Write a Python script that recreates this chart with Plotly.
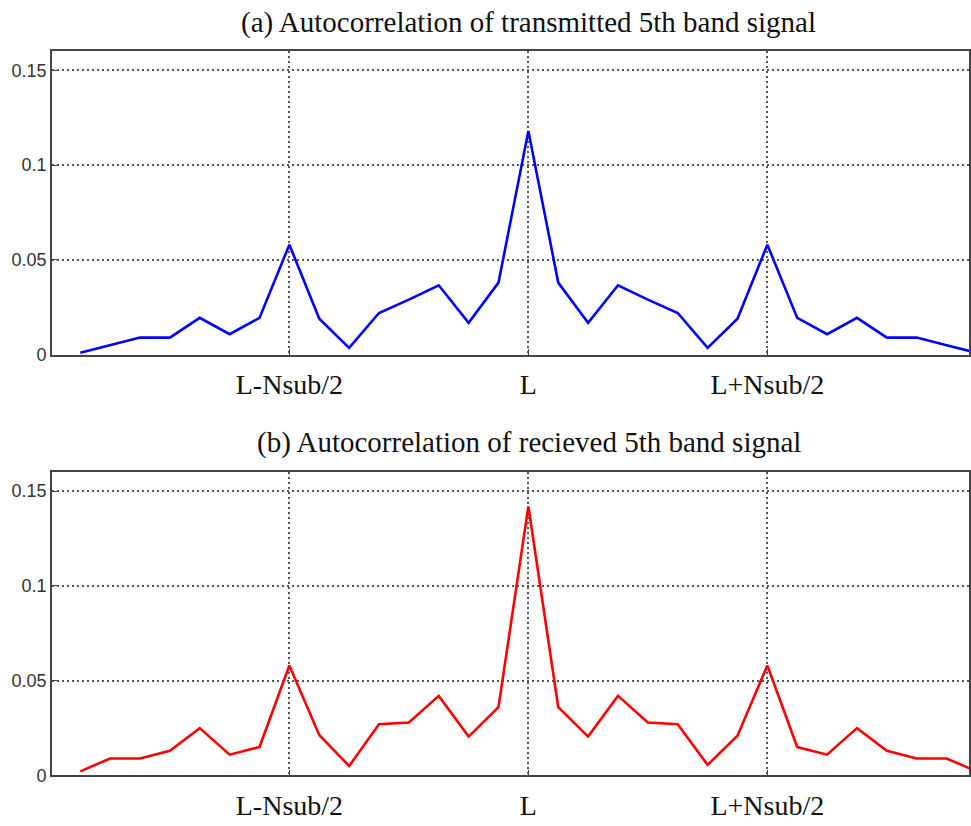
import plotly.graph_objects as go

# ---- data ----
lag_index = list(range(31))
transmitted = [0.001, 0.005, 0.009, 0.009, 0.0194, 0.0108, 0.0194, 0.058, 0.019, 0.0036,
               0.022, 0.029, 0.0366, 0.0168, 0.038, 0.118, 0.038, 0.0168, 0.0366, 0.029,
               0.022, 0.0036, 0.019, 0.058, 0.0194, 0.0108, 0.0194, 0.009, 0.009, 0.005, 0.001]
received = [0.0022, 0.009, 0.009, 0.013, 0.025, 0.011, 0.015, 0.058, 0.0214, 0.005,
            0.027, 0.028, 0.042, 0.0205, 0.036, 0.142, 0.036, 0.0205, 0.042, 0.028,
            0.027, 0.0056, 0.021, 0.058, 0.015, 0.011, 0.025, 0.013, 0.009, 0.009, 0.0022]
x_tick_vals = [7, 15, 23]
x_tick_text = ["L-Nsub/2", "L", "L+Nsub/2"]
y_tick_vals = [0, 0.05, 0.1, 0.15]
y_tick_text = ["0", "0.05", "0.1", "0.15"]
titles = ["(a) Autocorrelation of transmitted 5th band signal",
          "(b) Autocorrelation of recieved 5th band signal"]

W, H = 971, 826
fig = go.Figure()
fig.add_trace(go.Scatter(x=lag_index, y=transmitted, mode="lines",
                         line=dict(color="#0000FF", width=2.6), xaxis="x", yaxis="y",
                         showlegend=False))
fig.add_trace(go.Scatter(x=lag_index, y=received, mode="lines",
                         line=dict(color="#FF0000", width=2.6), xaxis="x2", yaxis="y2",
                         showlegend=False))

serif = "Liberation Serif, Times New Roman, serif"
sans = "Liberation Sans Narrow, Arial Narrow, Liberation Sans, Arial, sans-serif"

xdom = [52 / W, 1.0]
dom_top = [(H - 359) / H, (H - 52) / H]
dom_bot = [(H - 785) / H, (H - 478) / H]

grid = dict(showgrid=True, gridcolor="#555", griddash="2px,3px", gridwidth=1.5)

def xax(anchor):
    return dict(domain=xdom, anchor=anchor, range=[-0.95, 29.75],
                tickmode="array", tickvals=x_tick_vals, ticktext=x_tick_text,
                tickfont=dict(family=serif, size=28, color="#111"),
                ticklabelstandoff=4,
                showline=True, linecolor="#444", linewidth=1.6, mirror=True,
                ticks="inside", ticklen=6, tickcolor="#444", zeroline=False, **grid)

def yax(anchor, dom):
    return dict(domain=dom, anchor=anchor, range=[0, 0.16],
                tickmode="array", tickvals=y_tick_vals, ticktext=y_tick_text,
                tickfont=dict(family=sans, size=18, color="#333"),
                showline=True, linecolor="#444", linewidth=1.6, mirror=True,
                ticks="inside", ticklen=6, tickcolor="#444", zeroline=False, **grid)

fig.update_layout(
    width=W, height=H, margin=dict(l=0, r=0, t=0, b=0),
    paper_bgcolor="white", plot_bgcolor="white",
    xaxis=xax("y"), yaxis=yax("x", dom_top),
    xaxis2=xax("y2"), yaxis2=yax("x2", dom_bot),
    annotations=[
        dict(text=titles[0], x=530 / W, y=(H - 23) / H, xref="paper", yref="paper",
             xanchor="center", yanchor="middle", showarrow=False,
             font=dict(family=serif, size=29, color="#111")),
        dict(text=titles[1], x=530 / W, y=(H - 448) / H, xref="paper", yref="paper",
             xanchor="center", yanchor="middle", showarrow=False,
             font=dict(family=serif, size=29, color="#111")),
    ],
)

fig.write_html("out.html")
